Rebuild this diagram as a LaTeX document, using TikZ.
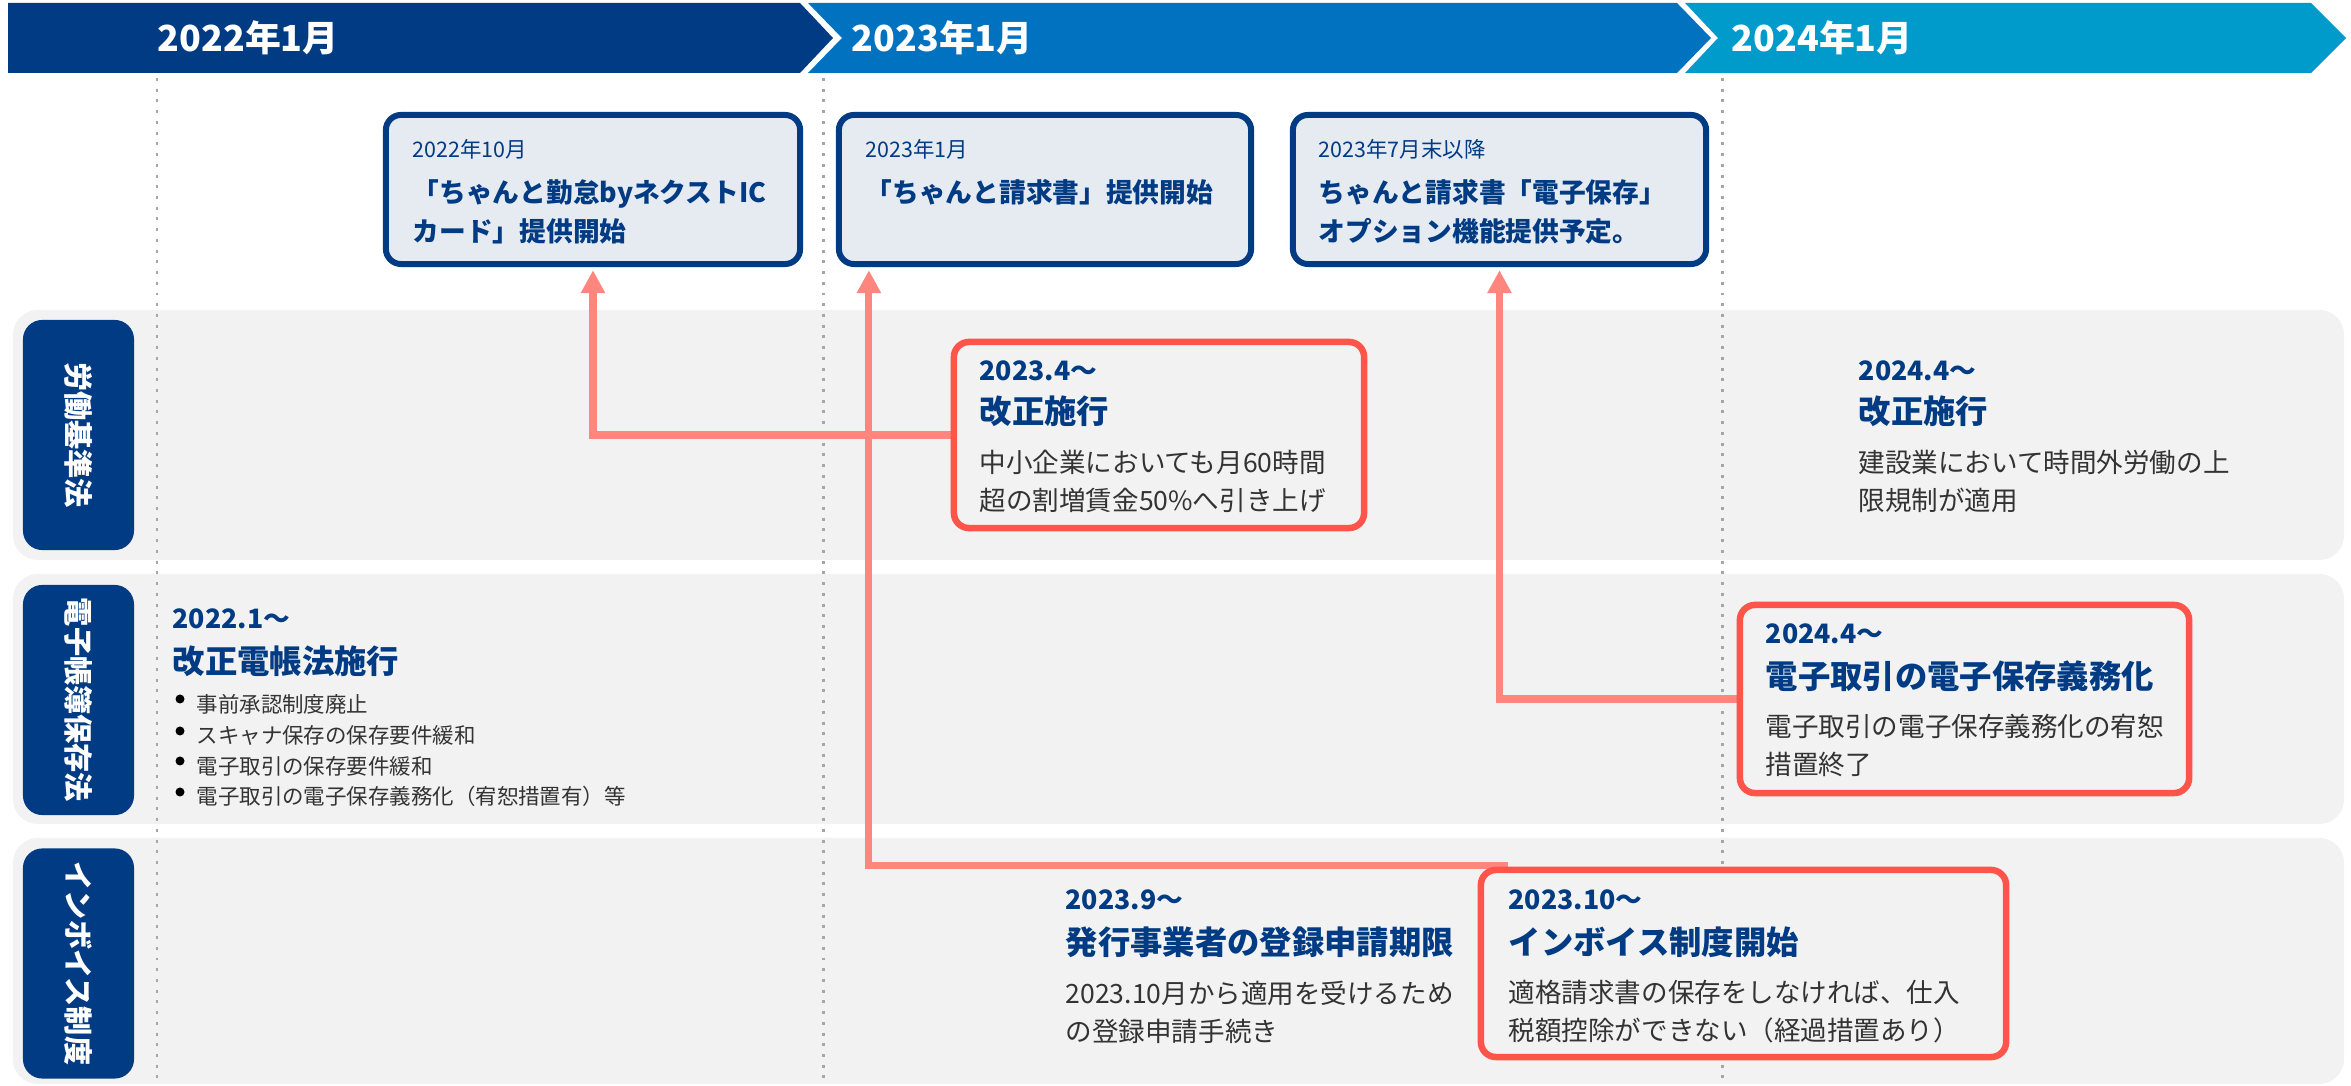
\documentclass[tikz,border=0pt]{standalone}
\usepackage{fontspec}
\setmainfont{Noto Sans CJK JP}
\usepackage{tikz}
\usetikzlibrary{calc}
\usetikzlibrary{arrows.meta}
\pgfdeclarelayer{back}
\pgfdeclarelayer{links}
\pgfsetlayers{back,links,main}

\definecolor{navy}{HTML}{003B83}
\definecolor{midblue}{HTML}{0072C0}
\definecolor{skyblue}{HTML}{009BCB}
\definecolor{boxfill}{HTML}{E6EBF2}
\definecolor{lanegray}{HTML}{F2F2F2}
\definecolor{alertred}{HTML}{FF5449}
\definecolor{linkred}{HTML}{FF867E}
\definecolor{textgray}{HTML}{333333}
\definecolor{gridgray}{HTML}{A6A6A6}

\newcommand\fYear{\fontsize{10.2pt}{12pt}\selectfont\bfseries}
\newcommand\fTag{\fontsize{8.3pt}{10pt}\selectfont\bfseries}
\newcommand\fSmall{\fontsize{6.1pt}{7pt}\selectfont}
\newcommand\fNews{\fontsize{7.6pt}{11.1pt}\selectfont\bfseries}
\newcommand\fWhen{\fontsize{7.6pt}{9pt}\selectfont\bfseries}
\newcommand\fTitle{\fontsize{9.2pt}{11pt}\selectfont\bfseries}
\newcommand\fNote{\fontsize{7.55pt}{10.8pt}\selectfont}
\newcommand\fPoint{\fontsize{6.1pt}{8.8pt}\selectfont}

\begin{document}
\begin{tikzpicture}[x=0.01cm, y=-0.01cm,
        yeartext/.style={anchor=west, inner sep=0, text=white, font=\fYear},
        yeargrid/.style={draw=gridgray, line width=0.85pt, dash pattern=on 0.85pt off 2.2pt},
        lanebg/.style={fill=lanegray, rounded corners=7pt},
        lawtag/.style={fill=navy, rounded corners=5.5pt, rotate=-90, inner sep=0,
            minimum width=2.3cm, minimum height=1.11cm, text=white, font=\fTag},
        newsbox/.style={draw=navy, fill=boxfill, line width=1.7pt, rounded corners=4.3pt,
            minimum height=1.49cm},
        lawbox/.style={draw=alertred, fill=lanegray, line width=1.85pt, rounded corners=4.3pt},
        txt/.style={anchor=west, inner sep=0, align=left},
        newsdate/.style={txt, text=navy, font=\fSmall},
        newstext/.style={txt, text=navy, font=\fNews},
        lawdate/.style={txt, text=navy, font=\fWhen},
        lawtitle/.style={txt, text=navy, font=\fTitle},
        lawnote/.style={txt, text=textgray, font=\fNote},
        link/.style={draw=linkred, line width=2pt, shorten >=0.9pt,
            -{Triangle[length=6.5pt,width=6.5pt]}}]
        \useasboundingbox (0,0) rectangle (2351,1086);

        % year band
        \fill[navy] (8,3) -- (800,3) -- (833,38) -- (800,73) -- (8,73) -- cycle;
        \fill[midblue] (808,3) -- (1677,3) -- (1711,38) -- (1677,73) -- (808,73) -- (842,38) -- cycle;
        \fill[skyblue] (1685,3) -- (2311,3) -- (2346,38) -- (2311,73) -- (1685,73) -- (1718,38) -- cycle;
        \node[yeartext] (y22) at (157,38) {2022年1月};
        \node[yeartext] (y23) at (851,38) {2023年1月};
        \node[yeartext] (y24) at (1731,38) {2024年1月};

        % lanes and year lines
        \begin{pgfonlayer}{back}
            \foreach \ltop/\lbot in {310/560, 574/824, 838/1084}
                \fill[lanebg] (13,\ltop) rectangle (2344,\lbot);
            \foreach \gx in {157,823,1722}
                \draw[yeargrid] (\gx,78) -- (\gx,1086);
        \end{pgfonlayer}

        \node[lawtag] (tagRodo) at (78.5,435) {労働基準法};
        \node[lawtag] (tagDencho) at (78.5,700) {電子帳簿保存法};
        \node[lawtag] (tagInvoice) at (78.5,963.5) {インボイス制度};

        % service boxes
        \node[newsbox, minimum width=4.14cm] (kintai) at (593,189.5) {};
        \node[newsbox, minimum width=4.12cm] (seikyu) at (1045,189.5) {};
        \node[newsbox, minimum width=4.13cm] (hozon) at (1499.5,189.5) {};

        \node[newsdate] (kintaiWhen) at (412,149) {2022年10月};
        \node[newstext] (kintaiText) at (412,211.5) {「ちゃんと勤怠byネクストIC\\カード」提供開始};
        \node[newsdate] (seikyuWhen) at (865,149) {2023年1月};
        \node[newstext] (seikyuText) at (865,192) {「ちゃんと請求書」提供開始};
        \node[newsdate] (hozonWhen) at (1318,149) {2023年7月末以降};
        \node[newstext] (hozonText) at (1318,211.5) {ちゃんと請求書「電子保存」\\オプション機能提供予定。};

        % law boxes
        \node[lawbox, minimum width=4.10cm, minimum height=1.86cm] (rodo) at (1159,435) {};
        \node[lawbox, minimum width=4.49cm, minimum height=1.88cm] (denshi) at (1964.5,699) {};
        \node[lawbox, minimum width=5.25cm, minimum height=1.87cm] (inv) at (1743.5,963.5) {};

        \node[lawdate] (rodoWhen) at (979,371) {2023.4～};
        \node[lawtitle] (rodoTitle) at (979,411) {改正施行};
        \node[lawnote] (rodoNote) at (979,481.5) {中小企業においても月60時間\\超の割増賃金50\%へ引き上げ};

        \node[lawdate] (kensetsuWhen) at (1858,371) {2024.4～};
        \node[lawtitle] (kensetsuTitle) at (1858,411) {改正施行};
        \node[lawnote] (kensetsuNote) at (1858,481.5) {建設業において時間外労働の上\\限規制が適用};

        \node[lawdate] (denchoWhen) at (172,619) {2022.1～};
        \node[lawtitle] (denchoTitle) at (172,661) {改正電帳法施行};
        \node[txt, text=textgray, font=\fPoint] (denchoPoints) at (196,750.5)
            {事前承認制度廃止\\スキャナ保存の保存要件緩和\\電子取引の保存要件緩和\\電子取引の電子保存義務化（宥恕措置有）等};
        \foreach \by in {699,731,761,792}
            \fill (180,\by) circle (4.5);

        \node[lawdate] (denshiWhen) at (1765,634) {2024.4～};
        \node[lawtitle] (denshiTitle) at (1765,676) {電子取引の電子保存義務化};
        \node[lawnote] (denshiNote) at (1765,745.5) {電子取引の電子保存義務化の宥恕\\措置終了};

        \node[lawdate] (tourokuWhen) at (1065,900) {2023.9～};
        \node[lawtitle] (tourokuTitle) at (1065,942) {発行事業者の登録申請期限};
        \node[lawnote] (tourokuNote) at (1065,1012) {2023.10月から適用を受けるため\\の登録申請手続き};

        \node[lawdate] (invWhen) at (1508,900) {2023.10～};
        \node[lawtitle] (invTitle) at (1508,942) {インボイス制度開始};
        \node[lawnote] (invNote) at (1508,1012) {適格請求書の保存をしなければ、仕入\\税額控除ができない（経過措置あり）};

        % links
        \begin{pgfonlayer}{links}
            \draw[link] (rodo.west) -| (kintai.south);
            \draw[link] ($(inv.north west)+(30,-1.5)$) -| ($(seikyu.south west)+(33,0)$);
            \draw[link] (denshi.west) -| (hozon.south);
        \end{pgfonlayer}
\end{tikzpicture}
\end{document}
